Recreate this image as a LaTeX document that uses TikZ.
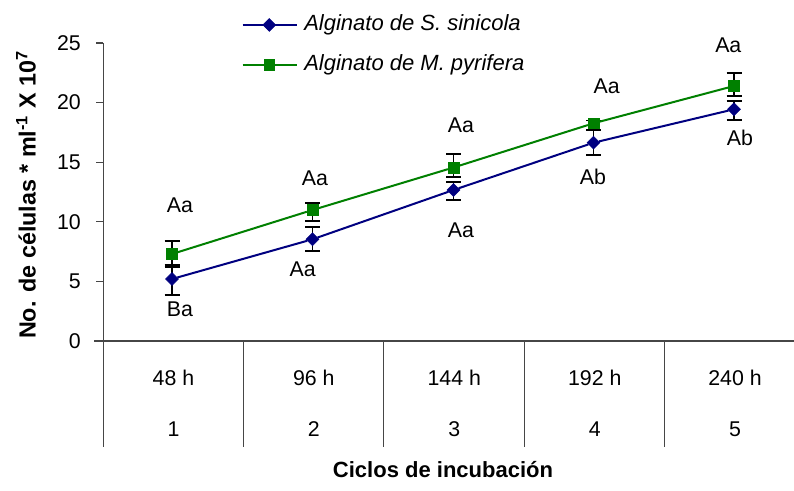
\documentclass[tikz,border=0pt]{standalone}
\usepackage{fontspec}
\setmainfont{Liberation Sans}
\usetikzlibrary{shapes.geometric}
\definecolor{sernavy}{RGB}{0,0,128}
\definecolor{sergreen}{RGB}{0,128,0}
\definecolor{axgray}{RGB}{70,70,70}
\begin{document}
\begin{tikzpicture}[x=0.75pt,y=-0.75pt,
  axisline/.style={draw=axgray, line width=0.8pt},
  ticklab/.style={anchor=east, inner sep=0pt, font=\fontsize{16}{18}\selectfont},
  catlab/.style={inner sep=0pt, font=\fontsize{16}{18}\selectfont},
  letlab/.style={inner sep=0pt, font=\fontsize{16}{18}\selectfont},
  legtext/.style={anchor=west, inner sep=0pt, font=\itshape\fontsize{16.5}{19}\selectfont},
  sqmark/.style={rectangle, fill=sergreen, draw=sergreen, minimum size=8pt, inner sep=0pt},
  dmmark/.style={diamond, fill=sernavy, draw=sernavy, minimum width=9.8pt, minimum height=9.8pt, inner sep=0pt},
  gline/.style={draw=sergreen, line width=1.5pt},
  bline/.style={draw=sernavy, line width=1.5pt},
  errb/.style={draw=black, line width=1.4pt}
]
\useasboundingbox (0,0) rectangle (794,491);
\fill[white] (0,0) rectangle (794,491);

% axes
\draw[axisline] (103.3,43) -- (103.3,446.7);
\draw[axisline] (94,341) -- (794,341);
\foreach \v in {5,10,15,20,25} {
  \draw[axisline] (96,{341-11.92*\v}) -- (103.3,{341-11.92*\v});
}
\foreach \v/\nm in {0/t0,5/t5,10/t10,15/t15,20/t20,25/t25} {
  \node[ticklab] (\nm) at (81,{341-11.92*\v}) {\v};
}
\foreach \xx in {243.3,383.8,524.3,664.8} {
  \draw[axisline] (\xx,341) -- (\xx,446.7);
}
% category labels
\foreach \xx/\h/\c/\nm in {173.5/48 h/1/c1,313.8/96 h/2/c2,454.3/144 h/3/c3,594.8/192 h/4/c4,735/240 h/5/c5} {
  \node[catlab] (h\nm) at (\xx,378) {\h};
  \node[catlab] (n\nm) at (\xx,429) {\c};
}
% axis titles
\node[rotate=90, inner sep=0pt, font=\bfseries\fontsize{17.5}{20}\selectfont] (ytitle) at (26,195) {No. de células * ml\textsuperscript{-1} X 10\textsuperscript{7}};
\node[inner sep=0pt, font=\bfseries\fontsize{16.5}{19}\selectfont] (xtitle) at (443,470) {Ciclos de incubación};

% error bars
\newcommand\errbar[3]{\draw[errb] (#1,#2) -- (#1,#3) (#1-7.5,#2) -- (#1+7.5,#2) (#1-7.5,#3) -- (#1+7.5,#3);}
\errbar{172}{241}{267}
\errbar{172}{265}{295}
\errbar{312.5}{203.3}{220.7}
\errbar{312.5}{227.3}{250.7}
\errbar{453.5}{154.3}{177.3}
\errbar{453.5}{181.7}{200}
\errbar{593.5}{120.5}{130}
\errbar{593.5}{130.4}{155}
\errbar{734}{72.7}{96}
\errbar{734}{100.7}{120}

% markers
\node[sqmark] (g1) at (172,254) {};
\node[sqmark] (g2) at (312.5,210) {};
\node[sqmark] (g3) at (453.5,167.5) {};
\node[sqmark] (g4) at (593.5,123.3) {};
\node[sqmark] (g5) at (734,86) {};
\node[dmmark] (b1) at (172,279) {};
\node[dmmark] (b2) at (312.5,239.3) {};
\node[dmmark] (b3) at (453.5,190) {};
\node[dmmark] (b4) at (593.5,142.7) {};
\node[dmmark] (b5) at (734,109.3) {};
\draw[gline] (g1) -- (g2) -- (g3) -- (g4) -- (g5);
\draw[bline] (b1) -- (b2) -- (b3) -- (b4) -- (b5);

% letters
\node[letlab] (la1) at (180,205) {Aa};
\node[letlab] (lb1) at (180,309) {Ba};
\node[letlab] (la2) at (315,178) {Aa};
\node[letlab] (lb2) at (302.7,269.3) {Aa};
\node[letlab] (la3) at (461,125) {Aa};
\node[letlab] (lb3) at (461,230.7) {Aa};
\node[letlab] (la4) at (606.7,86.7) {Aa};
\node[letlab] (lb4) at (593,176.7) {Ab};
\node[letlab] (la5) at (728.3,45) {Aa};
\node[letlab] (lb5) at (740,138.3) {Ab};

% legend
\coordinate (lb0) at (242.7,25);
\coordinate (lb9) at (296.7,25);
\coordinate (lg0) at (242.7,65);
\coordinate (lg9) at (296.7,65);
\draw[bline] (lb0) -- (lb9);
\draw[gline] (lg0) -- (lg9);
\node[dmmark] (legb) at (269.3,25) {};
\node[sqmark] (legg) at (269.3,65) {};
\node[legtext] (legbt) at (304,25) {Alginato de S. sinicola};
\node[legtext] (leggt) at (304,65) {Alginato de M. pyrifera};
\end{tikzpicture}
\end{document}
